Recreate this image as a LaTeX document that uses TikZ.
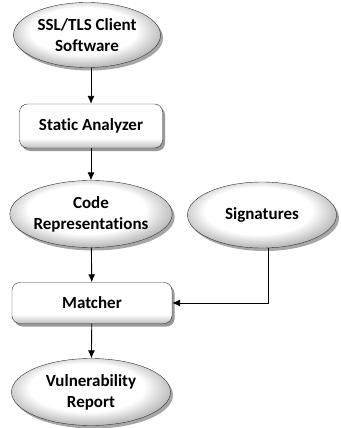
\documentclass[tikz,border=0pt]{standalone}
\usepackage{fontspec}
\setmainfont{Carlito}[Ligatures=CommonOff]
\usetikzlibrary{shapes.geometric,shadows,positioning,arrows.meta}
\pgfdeclareradialshading{blobshade}{\pgfpoint{-2bp}{5bp}}{color(0bp)=(white); color(18bp)=(white); color(26bp)=(gray!50); color(50bp)=(gray!50)}
\pgfdeclareverticalshading{stageshade}{100bp}{color(0bp)=(gray!50); color(25bp)=(gray!50); color(36bp)=(white); color(100bp)=(white)}
\tikzset{
  blob/.style={ellipse,draw=black!80,inner sep=0pt,align=center,shading=blobshade,
    drop shadow={shadow xshift=2.5pt,shadow yshift=-3pt,fill=black,opacity=0.35}},
  stage/.style={rectangle,rounded corners=8pt,draw=black!80,inner sep=0pt,align=center,shading=stageshade,
    drop shadow={shadow xshift=2.5pt,shadow yshift=-3pt,fill=black,opacity=0.4}},
  flow/.style={-{Latex[length=8pt,width=7pt]},line width=0.9pt}
}
\begin{document}
\begin{tikzpicture}[x=1pt,y=1pt,font=\fontsize{17}{21}\selectfont\bfseries]
\useasboundingbox (0,0) rectangle (340,-428);
\node[blob,minimum width=147,minimum height=65] (client) at (87,-35) {SSL/TLS Client\\Software};
\node[stage,minimum width=143,minimum height=44] (analyzer) at (91,-126) {Static Analyzer};
\node[blob,minimum width=159,minimum height=67] (coderep) at (91,-214) {Code\\Representations};
\node[blob,minimum width=149,minimum height=66] (sigs) at (262,-215) {Signatures};
\node[stage,minimum width=160,minimum height=41] (matcher) at (92,-303) {Matcher};
\node[blob,minimum width=159,minimum height=67] (report) at (91,-392) {Vulnerability\\Report};
\draw[flow] (client.south -| analyzer) -- (analyzer);
\draw[flow] (analyzer) -- (coderep);
\draw[flow] (coderep) -- (matcher);
\draw[flow] ([xshift=6pt]sigs.south) |- (matcher.east);
\draw[flow] (matcher) -- (report);
\end{tikzpicture}
\end{document}
